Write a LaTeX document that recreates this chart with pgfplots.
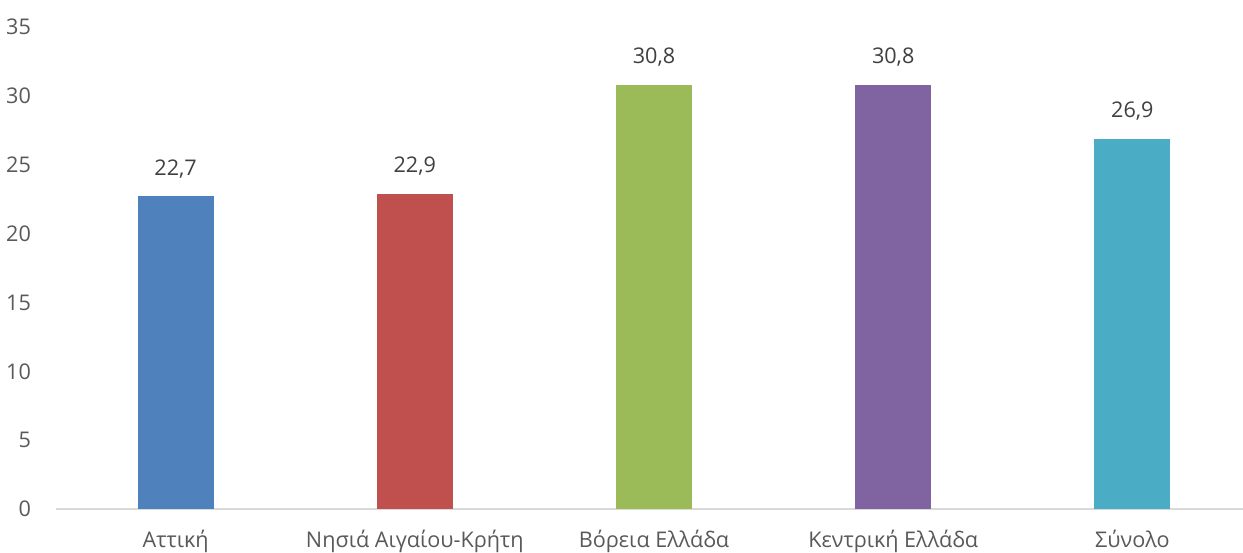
\documentclass[border=0pt]{standalone}
\usepackage{fontspec}
\setmainfont{Open Sans}
\usepackage{pgfplots}
\pgfplotsset{compat=1.18}
\definecolor{c1}{HTML}{4F81BD}
\definecolor{c2}{HTML}{C0504D}
\definecolor{c3}{HTML}{9BBB59}
\definecolor{c4}{HTML}{8064A2}
\definecolor{c5}{HTML}{4BACC6}
\definecolor{axisgray}{HTML}{D9D9D9}
\definecolor{ticktext}{HTML}{595959}
\definecolor{labeltext}{HTML}{404040}
\begin{document}
\begin{tikzpicture}
\begin{axis}[
  scale only axis,
  width=598pt, height=241pt,
  xmin=-0.5, xmax=4.5,
  ymin=0, ymax=35,
  ytick={0,5,...,35},
  xtick={0,1,2,3,4},
  xticklabels={Αττική, Νησιά Αιγαίου-Κρήτη, Βόρεια Ελλάδα, Κεντρική Ελλάδα, Σύνολο},
  axis x line*=bottom,
  axis y line*=left,
  y axis line style={draw=none},
  x axis line style={axisgray, line width=1pt},
  major tick length=0pt,
  tick style={draw=none},
  yticklabel style={font=\fontsize{10.8pt}{12pt}\selectfont, text=ticktext, xshift=-9pt},
  xticklabel style={font=\fontsize{10.8pt}{12pt}\selectfont, text=ticktext, yshift=-7pt},
  /pgf/number format/assume math mode=true,
  ybar, bar width=38pt, bar shift=0pt,
  nodes near coords,
  nodes near coords style={font=\fontsize{10.8pt}{12pt}\selectfont, text=labeltext, yshift=5.5pt,
    /pgf/number format/fixed, /pgf/number format/fixed zerofill, /pgf/number format/precision=1,
    /pgf/number format/use comma, /pgf/number format/assume math mode=true},
  clip=false,
]
\addplot[fill=c1, draw=none] coordinates {(0,22.7)};
\addplot[fill=c2, draw=none] coordinates {(1,22.9)};
\addplot[fill=c3, draw=none] coordinates {(2,30.8)};
\addplot[fill=c4, draw=none] coordinates {(3,30.8)};
\addplot[fill=c5, draw=none] coordinates {(4,26.9)};
\coordinate (o) at (rel axis cs:0,0);
\end{axis}
\pgfresetboundingbox
\path ([shift={(-28pt,-21.5pt)}]o) rectangle ([shift={(593.5pt,254.5pt)}]o);
\end{tikzpicture}
\end{document}
